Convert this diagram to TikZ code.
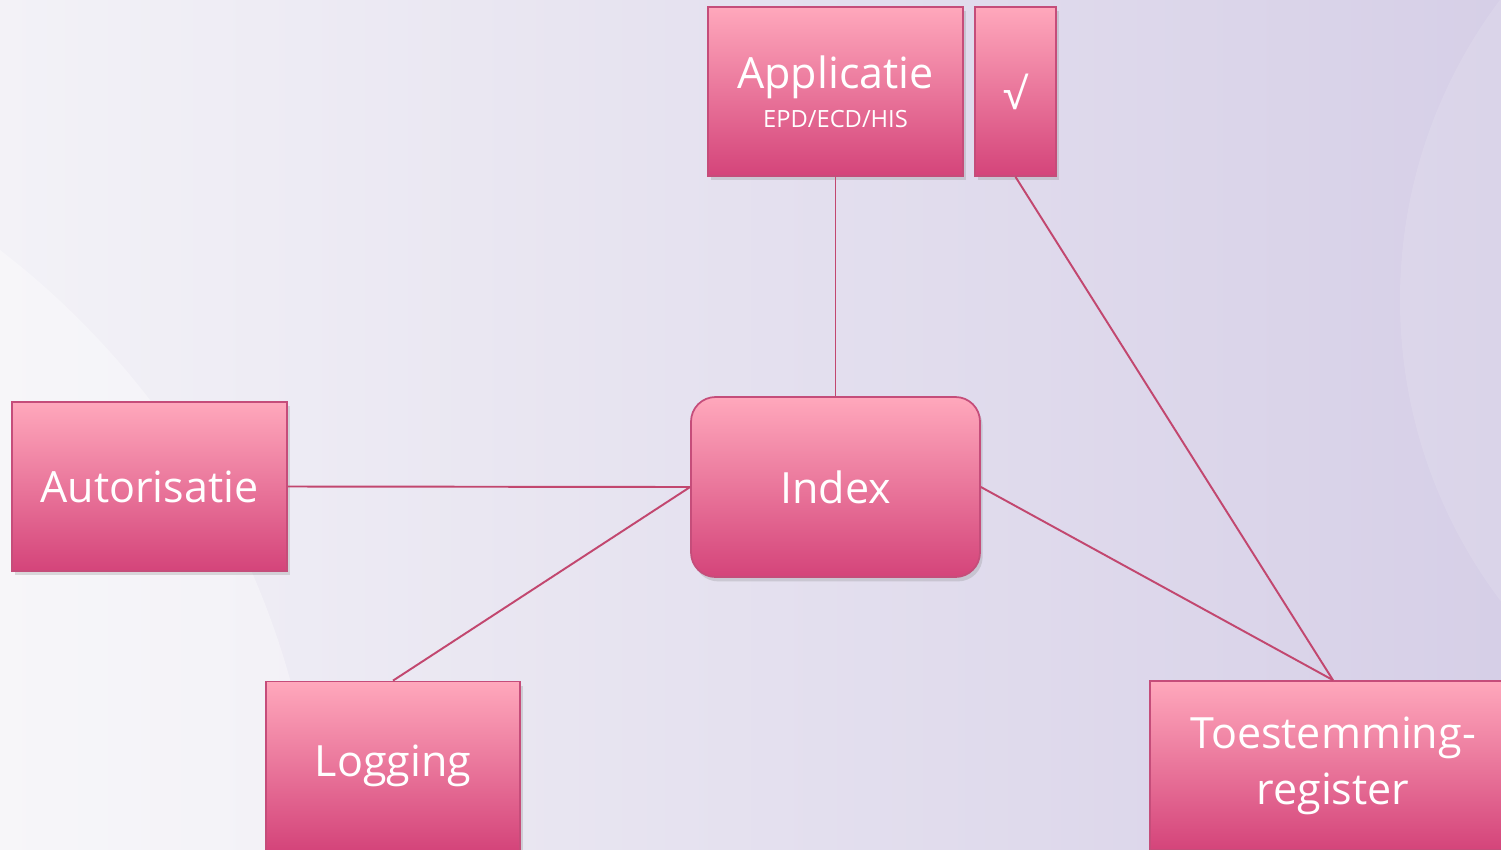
\documentclass[tikz,border=0pt]{standalone}
\usepackage{fontspec}
\setmainfont{Open Sans}
\usetikzlibrary{shadows}
\definecolor{boxtop}{HTML}{FFA8BC}
\definecolor{boxbottom}{HTML}{D4447A}
\definecolor{boxline}{HTML}{C54D7A}
\definecolor{linkline}{HTML}{C2476F}
\definecolor{bgleft}{HTML}{F3F2F7}
\definecolor{bgright}{HTML}{D6CFE7}
\tikzset{
    block/.style={draw=boxline, line width=1pt, top color=boxtop, bottom color=boxbottom,
        text=white, align=center, inner sep=0pt,
        font=\fontsize{24.5}{29}\selectfont,
        drop shadow={shadow xshift=1.5pt, shadow yshift=-2.5pt, opacity=0.25}},
    link/.style={draw=linkline, line width=1.1pt}
}
\begin{document}
\begin{tikzpicture}[x=0.02cm, y=-0.02cm]
        \useasboundingbox (0,0) rectangle (1501,849);
        \clip (0,0) rectangle (1501,849);
        \shade[left color=bgleft, right color=bgright] (0,0) rectangle (1501,849);
        \fill[white, opacity=0.35] (-500,900) circle (820);
        \fill[white, opacity=0.12] (1900,300) circle (500);
        \node[block, minimum width=255*0.02cm, minimum height=169*0.02cm] (app) at (835.5,91.5)
            {Applicatie\\[-7pt]{\fontsize{13.5}{16}\selectfont EPD/ECD/HIS}};
        \node[block, minimum width=81*0.02cm, minimum height=169*0.02cm] (check) at (1015.5,91.5) {√};
        \node[block, rounded corners=14pt, minimum width=289*0.02cm, minimum height=180*0.02cm] (index) at (835.5,487) {Index};
        \node[block, minimum width=275*0.02cm, minimum height=169*0.02cm] (autor) at (149.5,486.5) {Autorisatie};
        \node[block, minimum width=254*0.02cm, minimum height=169*0.02cm] (logging) at (393,766) {Logging};
        \node[block, minimum width=366*0.02cm, minimum height=169*0.02cm] (toest) at (1333,765.5)
            {Toestemming-\\[3pt]register};
        \draw[link] (app.south) -- (index.north);
        \draw[link] (autor.east) -- (index.west);
        \draw[link] (logging.north) -- (index.west);
        \draw[link] (index.east) -- (toest.north);
        \draw[link] (check.south) -- (toest.north);
    \end{tikzpicture}
\end{document}
